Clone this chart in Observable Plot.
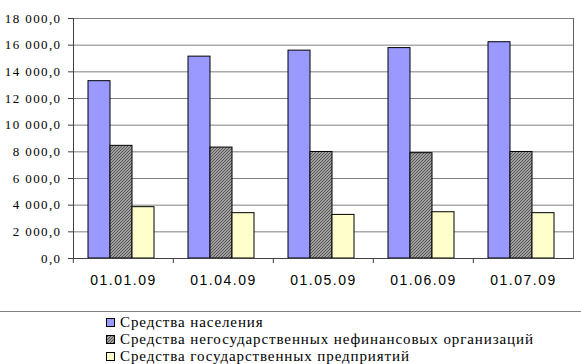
<!DOCTYPE html>
<html>
<head>
<meta charset="utf-8">
<script src="https://cdn.jsdelivr.net/npm/d3@7"></script>
<script src="https://cdn.jsdelivr.net/npm/@observablehq/plot@0.6"></script>
<style>
  html, body { margin: 0; padding: 0; background: #fff; }
  #wrap { width: 581px; }
  #legend { border-top: 1px solid #808080; width: 581px; padding-top: 2px;
            font-family: "Liberation Serif", "Times New Roman", Times, "DejaVu Serif", "Noto Serif", serif; font-size: 15px; letter-spacing: 0.9px; color: #000; }
  .row { height: 17px; line-height: 17px; padding-left: 106px; white-space: nowrap; display: flex; align-items: center; }
  .row svg { margin-right: 5px; flex: none; }
  .ylab text { font-family: "Liberation Serif", "Times New Roman", Times, "DejaVu Serif", "Noto Serif", serif; font-size: 13px; letter-spacing: 1.4px; }
  .xlab text { font-family: "Liberation Sans", Arial, sans-serif; font-size: 14px; letter-spacing: 1.5px; }
</style>
</head>
<body>
<div id="wrap"><div id="chart"></div><div id="legend"></div></div>
<script>
const dates = ["01.01.09", "01.04.09", "01.05.09", "01.06.09", "01.07.09"];
const seriesNames = [
  "Средства населения",
  "Средства негосударственных нефинансовых организаций",
  "Средства государственных предприятий"
];
const population = [13300, 15140, 15590, 15780, 16220];
const nonFinancial = [8450, 8320, 7990, 7900, 7990];
const stateEnterprises = [3850, 3400, 3270, 3470, 3400];
const yTicks = [0, 2000, 4000, 6000, 8000, 10000, 12000, 14000, 16000, 18000];
const colors = ["#9999ff", "url(#hatch)", "#ffffcc"];

const seriesValues = [population, nonFinancial, stateEnterprises];
const data = [];
dates.forEach((d, i) => seriesNames.forEach((s, j) => data.push({date: d, series: s, value: seriesValues[j][i]})));

const loc = d3.formatLocale({decimal: ",", thousands: "\u00a0", grouping: [3], currency: ["", ""]});
const fmt = loc.format(",.1f");

const W = 581, H = 311, mL = 72, mR = 7, mT = 18, mB = 53;
const step = (W - mL - mR) / dates.length;

const chart = Plot.plot({
  width: W, height: H,
  marginLeft: mL, marginRight: mR, marginTop: mT, marginBottom: mB,
  style: {background: "#fff", overflow: "visible"},
  fx: {domain: dates, padding: 0, label: null},
  x: {domain: seriesNames, paddingInner: 0, paddingOuter: 0.73, align: 0.45, axis: null},
  y: {domain: [0, 18000], label: null},
  color: {domain: seriesNames, range: colors},
  marks: [
    Plot.ruleY(yTicks, {stroke: "#808080", strokeWidth: 1, strokeOpacity: 1}),
    Plot.barY(data, {fx: "date", x: "series", y: "value", fill: "series", stroke: "#000", strokeWidth: 1}),
    Plot.ruleY([0], {stroke: "#404040"}),
    Plot.frame({anchor: "left", facetAnchor: "left", stroke: "#404040"}),
    Plot.frame({anchor: "right", facetAnchor: "right", stroke: "#606060"}),
    Plot.axisY({ticks: yTicks, tickFormat: fmt, tickSize: 5, tickPadding: 7, stroke: "#404040", fill: "#000", className: "ylab"}),
    Plot.axisFx({anchor: "bottom", tickSize: 0, tickPadding: 17, fill: "#000", className: "xlab"}),
    Plot.axisFx({anchor: "bottom", tickSize: 5, tickFormat: () => "", dx: -step / 2, stroke: "#404040"})
  ]
});

const defs = document.createElementNS("http://www.w3.org/2000/svg", "defs");
defs.innerHTML = `<pattern id="hatch" patternUnits="userSpaceOnUse" width="3" height="3">
  <rect width="3" height="3" fill="#a0a0a0"/>
  <path d="M-1,1 l2,-2 M0,3 l3,-3 M2,4 l2,-2" stroke="#555" stroke-width="1"/>
</pattern>`;
chart.insertBefore(defs, chart.firstChild);
document.getElementById("chart").appendChild(chart);

const legend = document.getElementById("legend");
seriesNames.forEach((s, j) => {
  const row = document.createElement("div");
  row.className = "row";
  row.innerHTML = `<svg width="9" height="9"><rect x="0.5" y="0.5" width="8" height="8" fill="${colors[j]}" stroke="#000"/></svg><span>${s}</span>`;
  legend.appendChild(row);
});
</script>
</body>
</html>
